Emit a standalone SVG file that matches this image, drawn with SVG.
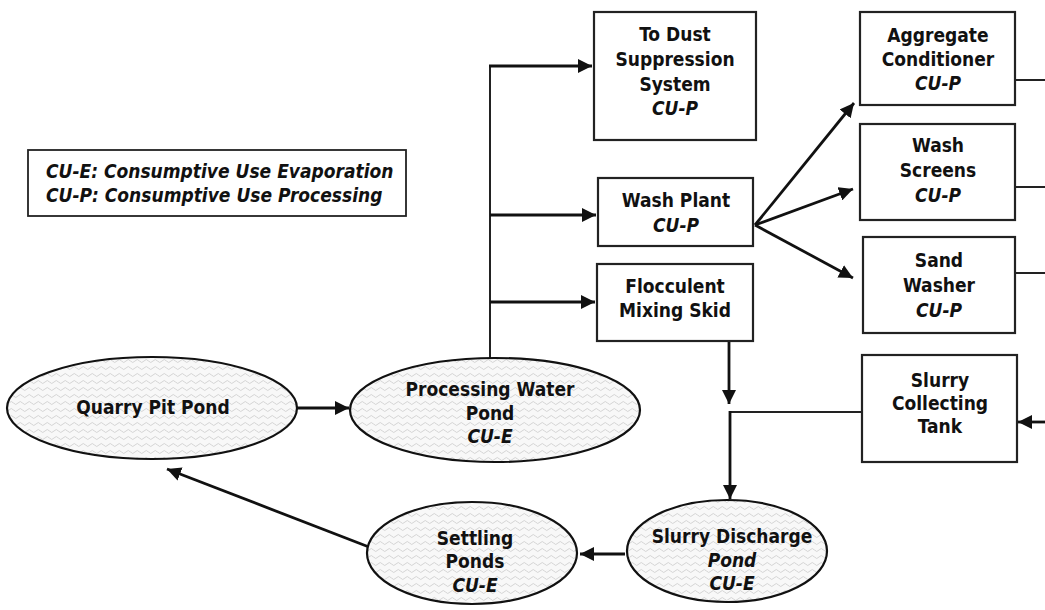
<svg xmlns="http://www.w3.org/2000/svg" width="1045" height="610" viewBox="0 0 1045 610">
<style>
.t{font-family:"DejaVu Sans Condensed","DejaVu Sans",sans-serif;font-weight:bold;font-size:19px;fill:#111;text-anchor:middle}
.i{font-style:italic}
.lg{font-family:"DejaVu Sans Condensed","DejaVu Sans",sans-serif;font-weight:bold;font-style:italic;font-size:19px;fill:#111}
.box{fill:#fff;stroke:#222;stroke-width:2.2}
.pond{fill:url(#wave);stroke:#111;stroke-width:2.2}
.c{fill:none;stroke:#111;stroke-width:2.8}
.c2{fill:none;stroke:#222;stroke-width:2}
</style>
<defs>
<pattern id="wave" width="9" height="7" patternUnits="userSpaceOnUse">
<rect width="9" height="7" fill="#f8f8f8"/>
<path d="M0 4 Q2.25 1 4.5 4 T9 4" fill="none" stroke="#c6c6c6" stroke-width="0.7"/>
</pattern>
<marker id="ah" viewBox="0 0 10 10" refX="10" refY="5" markerWidth="5" markerHeight="5" markerUnits="strokeWidth" orient="auto">
<path d="M0 0 L10 5 L0 10 z" fill="#111"/>
</marker>
</defs>

<g id="legend">
<rect x="28" y="150" width="378" height="66" fill="#fff" stroke="#222" stroke-width="1.8"/>
<text class="lg" x="46" y="178">CU-E: Consumptive Use Evaporation</text>
<text class="lg" x="46" y="202">CU-P: Consumptive Use Processing</text>
</g>

<g id="connectors">
<line class="c" x1="297" y1="408" x2="349" y2="408" marker-end="url(#ah)"/>
<polyline class="c2" points="490,358 490,66"/>
<line class="c" x1="489" y1="66" x2="592" y2="66" marker-end="url(#ah)"/>
<line class="c" x1="490" y1="215" x2="596" y2="215" marker-end="url(#ah)"/>
<line class="c" x1="490" y1="302" x2="595" y2="302" marker-end="url(#ah)"/>
<line class="c" x1="755" y1="225" x2="854" y2="103" marker-end="url(#ah)"/>
<line class="c" x1="755" y1="225" x2="853" y2="189" marker-end="url(#ah)"/>
<line class="c" x1="755" y1="225" x2="853" y2="278" marker-end="url(#ah)"/>
<line class="c2" x1="1015" y1="80" x2="1045" y2="80"/>
<line class="c2" x1="1015" y1="187" x2="1045" y2="187"/>
<line class="c2" x1="1015" y1="273" x2="1045" y2="273"/>
<line class="c" x1="1045" y1="422" x2="1018" y2="422" marker-end="url(#ah)"/>
<line class="c" x1="729" y1="341" x2="729" y2="404" marker-end="url(#ah)"/>
<polyline class="c2" points="862,412 730,412"/>
<line class="c" x1="730" y1="411" x2="730" y2="499" marker-end="url(#ah)"/>
<line class="c" x1="625" y1="554" x2="580" y2="554" marker-end="url(#ah)"/>
<line class="c" x1="369" y1="547" x2="167" y2="469" marker-end="url(#ah)"/>
</g>

<g id="quarry-pit-pond">
<ellipse class="pond" cx="152" cy="408" rx="145" ry="51"/>
<text class="t" x="153" y="414">Quarry Pit Pond</text>
</g>

<g id="processing-water-pond">
<ellipse class="pond" cx="495" cy="410" rx="145" ry="52"/>
<text class="t" x="490" y="396">Processing Water</text>
<text class="t" x="490" y="420">Pond</text>
<text class="t i" x="490" y="443">CU-E</text>
</g>

<g id="dust-suppression">
<rect class="box" x="594" y="12" width="162" height="128"/>
<text class="t" x="675" y="41">To Dust</text>
<text class="t" x="675" y="66">Suppression</text>
<text class="t" x="675" y="91">System</text>
<text class="t i" x="675" y="115">CU-P</text>
</g>

<g id="wash-plant">
<rect class="box" x="598" y="178" width="155" height="68"/>
<text class="t" x="676" y="207">Wash Plant</text>
<text class="t i" x="676" y="232">CU-P</text>
</g>

<g id="flocculent-mixing-skid">
<rect class="box" x="597" y="264" width="156" height="77"/>
<text class="t" x="675" y="293">Flocculent</text>
<text class="t" x="675" y="317">Mixing Skid</text>
</g>

<g id="aggregate-conditioner">
<rect class="box" x="860" y="12" width="155" height="93"/>
<text class="t" x="938" y="42">Aggregate</text>
<text class="t" x="938" y="66">Conditioner</text>
<text class="t i" x="938" y="90">CU-P</text>
</g>

<g id="wash-screens">
<rect class="box" x="860" y="124" width="155" height="96"/>
<text class="t" x="938" y="152">Wash</text>
<text class="t" x="938" y="177">Screens</text>
<text class="t i" x="938" y="202">CU-P</text>
</g>

<g id="sand-washer">
<rect class="box" x="863" y="237" width="152" height="96"/>
<text class="t" x="939" y="267">Sand</text>
<text class="t" x="939" y="292">Washer</text>
<text class="t i" x="939" y="317">CU-P</text>
</g>

<g id="slurry-collecting-tank">
<rect class="box" x="862" y="355" width="155" height="107"/>
<text class="t" x="940" y="387">Slurry</text>
<text class="t" x="940" y="410">Collecting</text>
<text class="t" x="940" y="433">Tank</text>
</g>

<g id="slurry-discharge-pond">
<ellipse class="pond" cx="727" cy="551" rx="100" ry="51"/>
<text class="t" x="732" y="543">Slurry Discharge</text>
<text class="t i" x="732" y="567">Pond</text>
<text class="t i" x="732" y="590">CU-E</text>
</g>

<g id="settling-ponds">
<ellipse class="pond" cx="472" cy="553" rx="105" ry="51"/>
<text class="t" x="475" y="545">Settling</text>
<text class="t" x="475" y="568">Ponds</text>
<text class="t i" x="475" y="592">CU-E</text>
</g>
</svg>
